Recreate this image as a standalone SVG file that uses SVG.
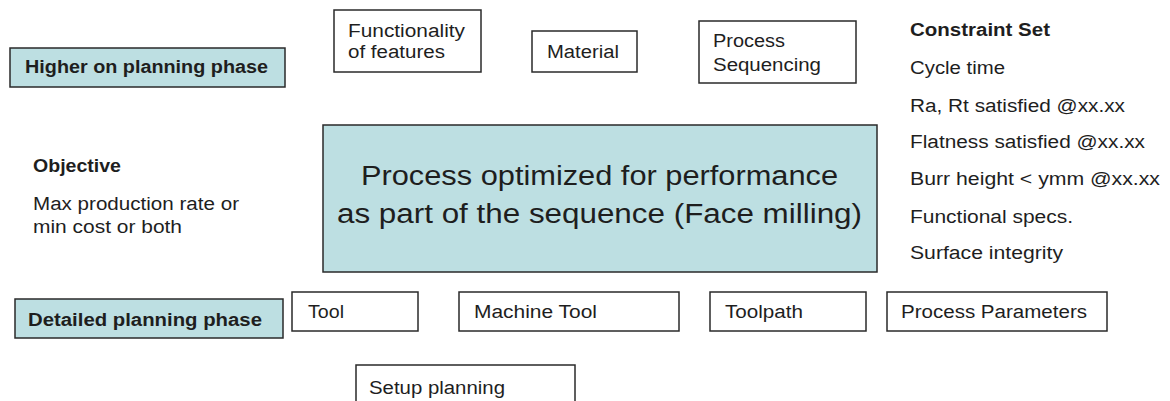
<svg xmlns="http://www.w3.org/2000/svg" width="1170" height="401" viewBox="0 0 1170 401">
<style>
.bg{fill:#ffffff}
.box{fill:#ffffff;stroke:#2a2a2a;stroke-width:1.5}
.hl{fill:#bddfe2;stroke:#2a2a2a;stroke-width:1.5}
text{font-family:"Liberation Sans",Arial,sans-serif;fill:#1e1e1e}
.t{font-size:18px}
.b{font-size:17.5px;font-weight:bold}
.big{font-size:27px}
</style>
<rect class="bg" x="0" y="0" width="1170" height="401"/>
<g id="connectors"></g>
<g id="higher-phase">
<rect class="hl" x="10" y="48" width="275" height="39"/>
<text class="b" x="25" y="73" textLength="243" lengthAdjust="spacingAndGlyphs">Higher on planning phase</text>
</g>
<g id="functionality">
<rect class="box" x="334" y="10" width="147" height="62"/>
<text class="t" x="348" y="37" textLength="117" lengthAdjust="spacingAndGlyphs">Functionality</text>
<text class="t" x="348" y="58" textLength="97" lengthAdjust="spacingAndGlyphs">of features</text>
</g>
<g id="material">
<rect class="box" x="532" y="31" width="105" height="41"/>
<text class="t" x="547" y="58" textLength="72" lengthAdjust="spacingAndGlyphs">Material</text>
</g>
<g id="process-sequencing">
<rect class="box" x="699" y="21" width="157" height="62"/>
<text class="t" x="713" y="47" textLength="72" lengthAdjust="spacingAndGlyphs">Process</text>
<text class="t" x="713" y="71" textLength="108" lengthAdjust="spacingAndGlyphs">Sequencing</text>
</g>
<g id="constraint-set">
<text class="b" x="910" y="36" textLength="140" lengthAdjust="spacingAndGlyphs">Constraint Set</text>
<text class="t" x="910" y="74" textLength="95" lengthAdjust="spacingAndGlyphs">Cycle time</text>
<text class="t" x="910" y="112" textLength="215" lengthAdjust="spacingAndGlyphs">Ra, Rt satisfied @xx.xx</text>
<text class="t" x="910" y="148" textLength="235" lengthAdjust="spacingAndGlyphs">Flatness satisfied @xx.xx</text>
<text class="t" x="910" y="185" textLength="250" lengthAdjust="spacingAndGlyphs">Burr height &lt; ymm @xx.xx</text>
<text class="t" x="910" y="223" textLength="163" lengthAdjust="spacingAndGlyphs">Functional specs.</text>
<text class="t" x="910" y="259" textLength="153" lengthAdjust="spacingAndGlyphs">Surface integrity</text>
</g>
<g id="objective">
<text class="b" x="33" y="172" textLength="88" lengthAdjust="spacingAndGlyphs">Objective</text>
<text class="t" x="33" y="210" textLength="206" lengthAdjust="spacingAndGlyphs">Max production rate or</text>
<text class="t" x="33" y="233" textLength="149" lengthAdjust="spacingAndGlyphs">min cost or both</text>
</g>
<g id="process-optimized">
<rect class="hl" x="323" y="125" width="554" height="147"/>
<text class="big" x="361" y="185" textLength="477" lengthAdjust="spacingAndGlyphs">Process optimized for performance</text>
<text class="big" x="337" y="223" textLength="525" lengthAdjust="spacingAndGlyphs">as part of the sequence (Face milling)</text>
</g>
<g id="detailed-phase">
<rect class="hl" x="15" y="299" width="268" height="39"/>
<text class="b" x="28" y="326" textLength="234" lengthAdjust="spacingAndGlyphs">Detailed planning phase</text>
</g>
<g id="tool">
<rect class="box" x="292" y="292" width="126" height="39"/>
<text class="t" x="308" y="318" textLength="36" lengthAdjust="spacingAndGlyphs">Tool</text>
</g>
<g id="machine-tool">
<rect class="box" x="459" y="292" width="220" height="39"/>
<text class="t" x="474" y="318" textLength="123" lengthAdjust="spacingAndGlyphs">Machine Tool</text>
</g>
<g id="toolpath">
<rect class="box" x="710" y="292" width="156" height="39"/>
<text class="t" x="725" y="318" textLength="78" lengthAdjust="spacingAndGlyphs">Toolpath</text>
</g>
<g id="process-parameters">
<rect class="box" x="887" y="292" width="220" height="39"/>
<text class="t" x="901" y="318" textLength="186" lengthAdjust="spacingAndGlyphs">Process Parameters</text>
</g>
<g id="setup-planning">
<rect class="box" x="356" y="365" width="219" height="45"/>
<text class="t" x="369" y="394" textLength="136" lengthAdjust="spacingAndGlyphs">Setup planning</text>
</g>
</svg>
